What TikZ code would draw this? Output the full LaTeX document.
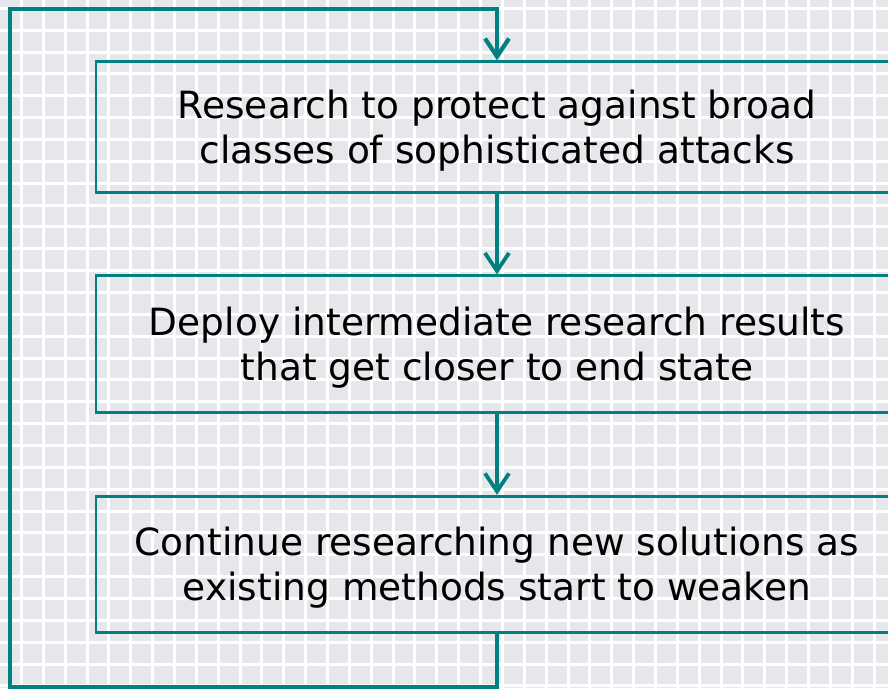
\documentclass[tikz,border=0pt]{standalone}
\usepackage{fontspec}
\setmainfont{DejaVu Sans}
\usepackage{tikz}
\usetikzlibrary{arrows.meta}
\definecolor{tealline}{RGB}{0,128,128}
\definecolor{gridbg}{RGB}{230,231,235}

\begin{document}
\begin{tikzpicture}[x=1pt, y=-1pt,
  stepbox/.style={draw=tealline, line width=2.8pt, minimum width=802pt,
    align=center, inner sep=0pt, font=\fontsize{37.5}{45}\selectfont},
  flow/.style={draw=tealline, line width=3.8pt,
    -{Straight Barb[length=18pt, width=24pt]}}]
\useasboundingbox (0,0) rectangle (888,688);
\clip (0,0) rectangle (888,688);
% background grid
\fill[gridbg] (0,0) rectangle (888,688);
\foreach \i in {0,...,40}
  \draw[white, line width=3pt] ({21.5+21.86*\i},0) -- ++(0,688);
\foreach \j in {0,...,31}
  \draw[white, line width=3pt] (0,{8.3+21.86*\j}) -- ++(888,0);
% boxes
\node[stepbox, minimum height=131pt] at (497,127.2) (b1) {\rule{0pt}{36pt}Research to protect against broad\\classes of sophisticated attacks};
\node[stepbox, minimum height=137pt] at (497,344.3) (b2) {\rule{0pt}{36pt}Deploy intermediate research results\\that get closer to end state};
\node[stepbox, minimum height=136pt] at (497,564.2) (b3) {\rule{0pt}{36pt}Continue researching new solutions as\\existing methods start to weaken};
% arrows
\coordinate (lb) at (10,687);
\coordinate (lt) at (10,9);
\path[flow] (b1) -- (b2);
\path[flow] (b2) -- (b3);
\path[flow, line width=4.2pt] (b3.south) |- (lb) -- (lt) -| (b1.north);
\end{tikzpicture}
\end{document}
